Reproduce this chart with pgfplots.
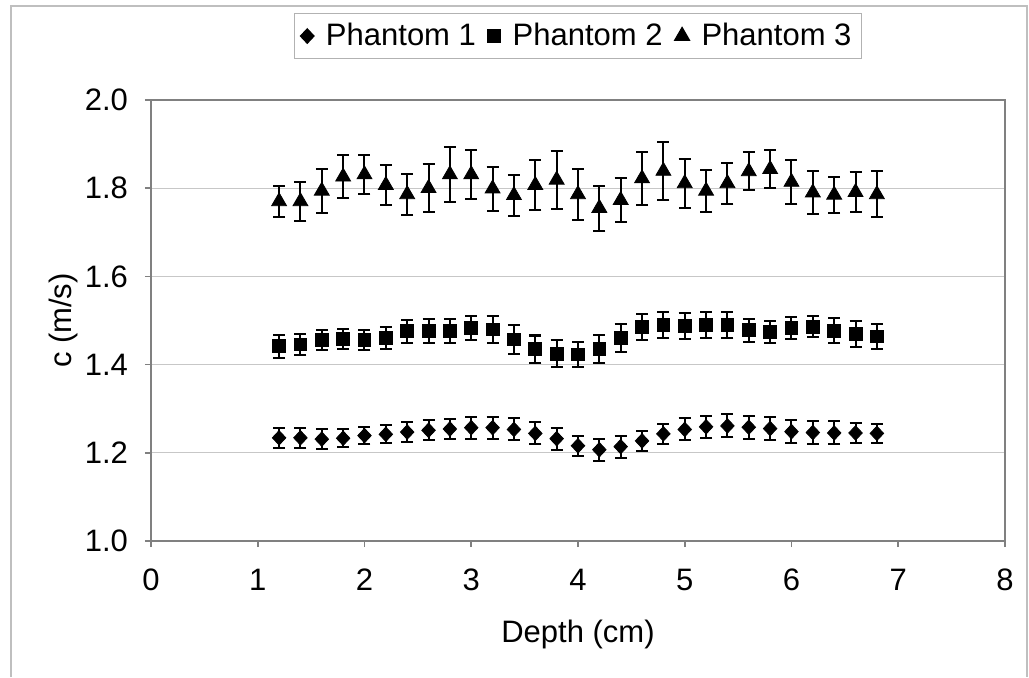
\documentclass[border=0pt]{standalone}
\usepackage{fontspec}
\setmainfont{Liberation Sans}
\usepackage{pgfplots}
\usepackage{pgfplotstable}
\pgfplotsset{compat=1.18}
\pgfplotstableread{
x y e
1.2 1.234 0.023
1.4 1.234 0.023
1.6 1.231 0.022
1.8 1.233 0.020
2.0 1.239 0.019
2.2 1.242 0.020
2.4 1.247 0.022
2.6 1.251 0.023
2.8 1.254 0.023
3.0 1.257 0.025
3.2 1.257 0.025
3.4 1.253 0.025
3.6 1.244 0.025
3.8 1.232 0.025
4.0 1.216 0.023
4.2 1.207 0.025
4.4 1.214 0.025
4.6 1.227 0.023
4.8 1.243 0.023
5.0 1.253 0.025
5.2 1.259 0.025
5.4 1.261 0.026
5.6 1.258 0.026
5.8 1.255 0.027
6.0 1.248 0.026
6.2 1.246 0.025
6.4 1.245 0.026
6.6 1.245 0.023
6.8 1.244 0.022
}\phantomA
\pgfplotstableread{
x y e
1.2 1.442 0.026
1.4 1.446 0.024
1.6 1.456 0.023
1.8 1.458 0.022
2.0 1.456 0.023
2.2 1.461 0.025
2.4 1.476 0.026
2.6 1.477 0.027
2.8 1.477 0.027
3.0 1.483 0.028
3.2 1.480 0.031
3.4 1.457 0.032
3.6 1.435 0.031
3.8 1.425 0.031
4.0 1.423 0.029
4.2 1.436 0.032
4.4 1.460 0.032
4.6 1.485 0.029
4.8 1.490 0.029
5.0 1.488 0.029
5.2 1.490 0.029
5.4 1.490 0.029
5.6 1.478 0.026
5.8 1.474 0.024
6.0 1.483 0.025
6.2 1.486 0.024
6.4 1.477 0.028
6.6 1.469 0.029
6.8 1.464 0.028
}\phantomB
\pgfplotstableread{
x y e
1.2 1.770 0.036
1.4 1.770 0.044
1.6 1.794 0.050
1.8 1.826 0.049
2.0 1.831 0.044
2.2 1.807 0.045
2.4 1.786 0.046
2.6 1.800 0.054
2.8 1.831 0.063
3.0 1.831 0.056
3.2 1.799 0.050
3.4 1.784 0.046
3.6 1.807 0.057
3.8 1.819 0.066
4.0 1.786 0.058
4.2 1.755 0.051
4.4 1.773 0.050
4.6 1.822 0.060
4.8 1.839 0.065
5.0 1.811 0.055
5.2 1.794 0.047
5.4 1.811 0.046
5.6 1.838 0.043
5.8 1.843 0.043
6.0 1.814 0.049
6.2 1.790 0.049
6.4 1.785 0.041
6.6 1.791 0.045
6.8 1.786 0.052
}\phantomC
\begin{document}
\begin{tikzpicture}
\path[use as bounding box] (0,0) rectangle (514.5pt,338.5pt);
\draw[black!25, line width=0.8pt] (5.5pt,0) -- (5.5pt,335.5pt) -- (513.5pt,335.5pt) -- (513.5pt,0);
\begin{axis}[
  at={(75.5pt,68pt)}, anchor=south west,
  scale only axis, width=427pt, height=220.5pt,
  xmin=0, xmax=8, ymin=1.0, ymax=2.0,
  xtick={0,1,...,8}, ytick={1.0,1.2,...,2.0},
  xtick pos=bottom, ytick pos=left,
  axis line style={black!50, line width=0.8pt},
  tick style={black!50, line width=0.8pt},
  tick align=outside, major tick length=3pt,
  ymajorgrids, grid style={black!22, line width=0.6pt},
  /pgf/number format/assume math mode=true,
  ticklabel style={font=\fontsize{15.5}{18}\selectfont},
  label style={font=\fontsize{15.5}{18}\selectfont},
  xticklabel style={yshift=-7.5pt},
  yticklabel style={xshift=-5pt},
  yticklabel={\pgfmathprintnumber[fixed, fixed zerofill, precision=1, assume math mode=true]{\tick}},
  xlabel={Depth (cm)}, ylabel={c (m/s)},
  xlabel style={yshift=-7.5pt},
  ylabel style={yshift=-3.5pt},
  legend columns=3,
  legend style={at={(0.5,1.145)}, anchor=center, draw=black!30, line width=0.6pt,
    font=\fontsize{15.5}{18}\selectfont, inner xsep=3pt, inner ysep=3pt,
    /tikz/every even column/.append style={column sep=4pt},
    /tikz/every odd column/.append style={column sep=4pt}},
  legend cell align=left,
  error bars/y dir=both, error bars/y explicit,
  error bars/error bar style={black, line width=1pt},
  error bars/error mark options={rotate=90, mark size=3pt, line width=1pt, black},
]
\addplot[only marks, mark=diamond*, mark size=3.6pt, mark options={xscale=1.25, fill=black, draw=black}]
  table[x=x, y=y, y error=e] {\phantomA};
\addplot[only marks, mark=square*, mark size=3.2pt, mark options={fill=black, draw=black}]
  table[x=x, y=y, y error=e] {\phantomB};
\addplot[only marks, mark=triangle*, mark size=4.3pt, mark options={fill=black, draw=black}]
  table[x=x, y=y, y error=e] {\phantomC};
\legend{Phantom 1, Phantom 2, Phantom 3}
\end{axis}
\end{tikzpicture}
\end{document}
